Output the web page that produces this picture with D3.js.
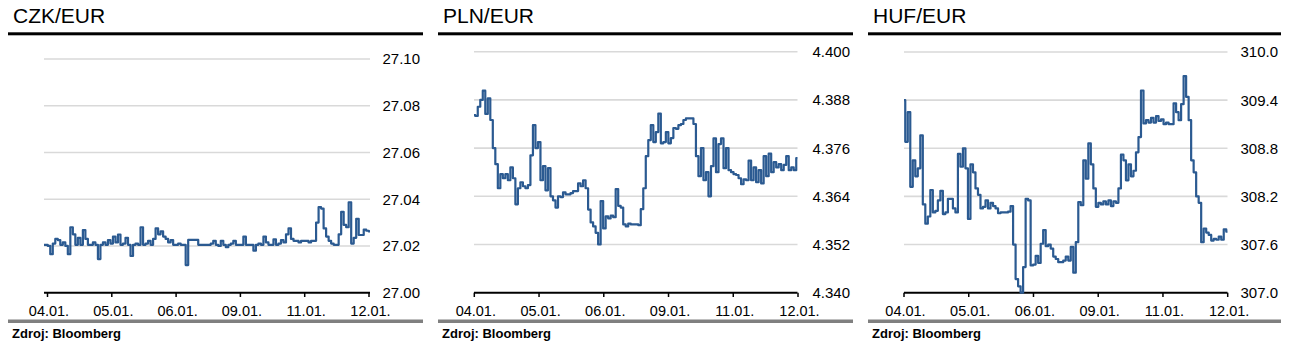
<!DOCTYPE html>
<html>
<head>
<meta charset="utf-8">
<script src="https://cdn.jsdelivr.net/npm/d3@7"></script>
<style>
  body { margin: 0; background: #fff; }
  svg { display: block; font-family: "Liberation Sans", Arial, sans-serif; }
</style>
</head>
<body>
<svg id="chart" width="1298" height="352"></svg>
<script>
// x axis labels, same for all three panels
const dateLabels = ["04.01.", "05.01.", "06.01.", "09.01.", "11.01.", "12.01."]

const czkTicks = [27.00, 27.02, 27.04, 27.06, 27.08, 27.10]
const plnTicks = [4.340, 4.352, 4.364, 4.376, 4.388, 4.400]
const hufTicks = [307.0, 307.6, 308.2, 308.8, 309.4, 310.0]

// intraday quotes, evenly spaced from 04.01. to 12.01.
const czkValues = [
  27.0205, 27.0205, 27.0200, 27.0165, 27.0210, 27.0230, 27.0225, 27.0205, 27.0215, 27.0200,
  27.0165, 27.0280, 27.0250, 27.0205, 27.0235, 27.0205, 27.0268, 27.0230, 27.0205, 27.0205,
  27.0215, 27.0205, 27.0144, 27.0205, 27.0215, 27.0205, 27.0225, 27.0210, 27.0240, 27.0215,
  27.0249, 27.0205, 27.0210, 27.0235, 27.0205, 27.0157, 27.0205, 27.0210, 27.0205, 27.0280,
  27.0205, 27.0210, 27.0222, 27.0205, 27.0230, 27.0275, 27.0250, 27.0262, 27.0240, 27.0230,
  27.0215, 27.0225, 27.0205, 27.0205, 27.0210, 27.0205, 27.0205, 27.0118, 27.0226, 27.0226,
  27.0226, 27.0226, 27.0205, 27.0205, 27.0205, 27.0205, 27.0205, 27.0210, 27.0222, 27.0205,
  27.0200, 27.0222, 27.0205, 27.0195, 27.0205, 27.0210, 27.0222, 27.0205, 27.0205, 27.0205,
  27.0240, 27.0205, 27.0205, 27.0205, 27.0180, 27.0205, 27.0210, 27.0205, 27.0240, 27.0215,
  27.0205, 27.0205, 27.0228, 27.0205, 27.0210, 27.0225, 27.0215, 27.0250, 27.0275, 27.0230,
  27.0222, 27.0222, 27.0215, 27.0222, 27.0222, 27.0222, 27.0215, 27.0222, 27.0222, 27.0300,
  27.0366, 27.0360, 27.0275, 27.0240, 27.0222, 27.0210, 27.0205, 27.0205, 27.0250, 27.0346,
  27.0290, 27.0280, 27.0387, 27.0210, 27.0235, 27.0316, 27.0247, 27.0247, 27.0270, 27.0265,
  27.0262
]

const plnValues = [
  4.3842, 4.3840, 4.3863, 4.3880, 4.3903, 4.3845, 4.3884, 4.3830, 4.3760, 4.3720,
  4.3660, 4.3695, 4.3685, 4.3695, 4.3680, 4.3712, 4.3685, 4.3620, 4.3660, 4.3675,
  4.3665, 4.3660, 4.3668, 4.3742, 4.3817, 4.3760, 4.3775, 4.3680, 4.3715, 4.3655,
  4.3710, 4.3640, 4.3630, 4.3612, 4.3640, 4.3638, 4.3650, 4.3645, 4.3645, 4.3648,
  4.3653, 4.3653, 4.3672, 4.3665, 4.3680, 4.3660, 4.3607, 4.3575, 4.3565, 4.3549,
  4.3520, 4.3628, 4.3560, 4.3590, 4.3585, 4.3592, 4.3588, 4.3658, 4.3616, 4.3612,
  4.3570, 4.3565, 4.3572, 4.3570, 4.3570, 4.3570, 4.3568, 4.3608, 4.3660, 4.3740,
  4.3780, 4.3817, 4.3775, 4.3800, 4.3846, 4.3772, 4.3775, 4.3800, 4.3772, 4.3785,
  4.3810, 4.3808, 4.3817, 4.3820, 4.3830, 4.3834, 4.3834, 4.3834, 4.3820, 4.3740,
  4.3690, 4.3760, 4.3680, 4.3700, 4.3640, 4.3715, 4.3784, 4.3700, 4.3770, 4.3784,
  4.3710, 4.3760, 4.3705, 4.3700, 4.3695, 4.3693, 4.3685, 4.3670, 4.3682, 4.3680,
  4.3729, 4.3680, 4.3712, 4.3675, 4.3705, 4.3672, 4.3740, 4.3690, 4.3746, 4.3700,
  4.3725, 4.3712, 4.3720, 4.3705, 4.3718, 4.3740, 4.3705, 4.3712, 4.3705, 4.3735
]

const hufValues = [
  309.40, 308.88, 309.25, 308.32, 308.65, 308.45, 308.55, 308.96, 308.10, 307.86,
  307.95, 308.28, 308.00, 308.02, 308.15, 308.27, 307.98, 308.00, 308.17, 308.17,
  308.05, 308.00, 308.73, 308.57, 308.80, 308.55, 307.92, 308.60, 308.50, 308.30,
  308.22, 308.05, 308.07, 308.15, 308.05, 308.12, 308.08, 308.05, 307.99, 308.00,
  308.00, 308.00, 308.01, 308.08, 307.60, 307.17, 307.08, 307.00, 307.32, 308.17,
  308.15, 307.34, 307.35, 307.46, 307.37, 307.61, 307.78, 307.58, 307.60, 307.55,
  307.45, 307.42, 307.38, 307.38, 307.40, 307.45, 307.40, 307.57, 307.25, 307.63,
  308.13, 308.09, 308.65, 308.42, 308.86, 308.60, 308.30, 308.07, 308.12, 308.10,
  308.14, 308.10, 308.15, 308.08, 308.14, 308.12, 308.30, 308.72, 308.65, 308.40,
  308.60, 308.45, 308.52, 308.75, 308.94, 309.52, 309.11, 309.15, 309.12, 309.18,
  309.12, 309.20, 309.14, 309.16, 309.10, 309.12, 309.10, 309.10, 309.36, 309.25,
  309.15, 309.35, 309.70, 309.44, 309.15, 308.65, 308.50, 308.20, 308.12, 307.63,
  307.80, 307.75, 307.72, 307.65, 307.67, 307.66, 307.70, 307.66, 307.79, 307.76
]

const svg = d3.select("#chart")

function draw_panel(p) {
  const g = svg.append("g")

  // title + thick black rule
  g.append("text").attr("x", p.left + 13).attr("y", 23).attr("font-size", 21).attr("fill", "#000").text(p.title)
  g.append("rect").attr("x", p.left + 8).attr("y", 32.3).attr("width", p.ruleW).attr("height", 3).attr("fill", "#000")

  const x = d3.scaleLinear().domain([0, p.values.length - 1]).range(p.plotX)
  const y = d3.scaleLinear().domain([p.ticks[0], p.ticks[p.ticks.length - 1]]).range([292.7, p.top])
  const xTick = d3.scalePoint().domain(dateLabels).range(p.tickX)

  // gridlines
  g.selectAll(".grid").data(p.ticks.slice(1)).enter().append("line")
    .attr("x1", p.plotX[0]).attr("x2", p.plotX[1])
    .attr("y1", (d) => y(d)).attr("y2", (d) => y(d))
    .attr("stroke", "#d9d9d9").attr("stroke-width", 1.6)

  // y labels on the right
  g.selectAll(".ylab").data(p.ticks).enter().append("text")
    .attr("x", p.left + p.ruleW + 5).attr("y", (d) => y(d)).attr("dy", "0.36em")
    .attr("text-anchor", "end").attr("font-size", 15).attr("fill", "#000")
    .text((d) => d3.format(p.fmt)(d))

  // x axis
  g.append("line").attr("x1", p.plotX[0]).attr("x2", p.plotX[1]).attr("y1", 292.7).attr("y2", 292.7)
    .attr("stroke", "#000").attr("stroke-width", 2)
  g.selectAll(".xtick").data(dateLabels).enter().append("line")
    .attr("x1", (d) => xTick(d)).attr("x2", (d) => xTick(d)).attr("y1", 292.7).attr("y2", 297)
    .attr("stroke", "#000").attr("stroke-width", 1.5)
  g.selectAll(".xlab").data(dateLabels).enter().append("text")
    .attr("x", (d) => xTick(d) + 1.5).attr("y", 316).attr("text-anchor", "middle")
    .attr("font-size", 14.5).attr("fill", "#000").text((d) => d)

  // series, drawn as steps like tick data
  const line = d3.line().curve(d3.curveStep).x((d, i) => x(i)).y((d) => y(d))
  g.append("path").datum(p.values).attr("d", line)
    .attr("fill", "none").attr("stroke", "#2b5a91").attr("stroke-width", 2.2).attr("stroke-linejoin", "round")

  // bottom gray rule + source
  g.append("rect").attr("x", p.left + 8).attr("y", 319.5).attr("width", p.ruleW).attr("height", 3.5).attr("fill", "#808080")
  g.append("text").attr("x", p.left + 12).attr("y", 337.5).attr("font-size", 13).attr("font-weight", "bold")
    .attr("fill", "#000").text("Zdroj: Bloomberg")
}

draw_panel({ left: 0, title: "CZK/EUR", values: czkValues, ticks: czkTicks, fmt: ".2f", top: 59, ruleW: 415, plotX: [44, 370], tickX: [47.5, 369] })
draw_panel({ left: 430, title: "PLN/EUR", values: plnValues, ticks: plnTicks, fmt: ".3f", top: 51.7, ruleW: 415, plotX: [474, 797.5], tickX: [474.3, 798] })
draw_panel({ left: 860, title: "HUF/EUR", values: hufValues, ticks: hufTicks, fmt: ".1f", top: 52, ruleW: 413, plotX: [904, 1227.5], tickX: [904, 1227.7] })
</script>
</body>
</html>
